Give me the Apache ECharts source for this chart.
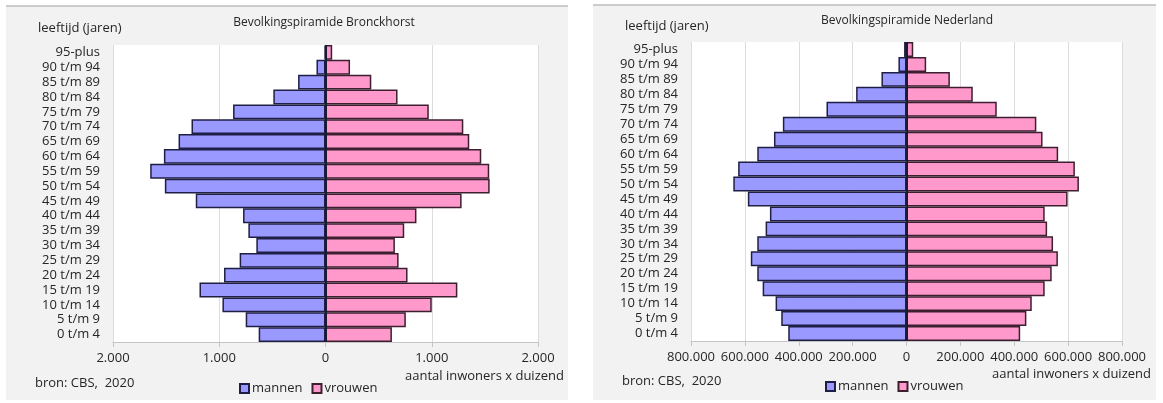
<!DOCTYPE html>
<html>
<head>
<meta charset="utf-8">
<script src="https://cdn.jsdelivr.net/npm/echarts@6/dist/echarts.min.js"></script>
<style>
html,body{margin:0;padding:0;background:#fff;}
#c{width:1163px;height:403px;}
</style>
</head>
<body>
<div id="c"></div>
<script>
// categories, top to bottom
const categories = ['95-plus','90 t/m 94','85 t/m 89','80 t/m 84','75 t/m 79','70 t/m 74','65 t/m 69','60 t/m 64','55 t/m 59','50 t/m 54','45 t/m 49','40 t/m 44','35 t/m 39','30 t/m 34','25 t/m 29','20 t/m 24','15 t/m 19','10 t/m 14','5 t/m 9','0 t/m 4'];

// Bronckhorst
const bronckhorstMannen = [8, 85, 258, 491, 870, 1261, 1383, 1521, 1650, 1512, 1221, 776, 726, 651, 808, 955, 1186, 970, 751, 629];
const bronckhorstVrouwen = [63, 231, 431, 678, 972, 1297, 1353, 1466, 1541, 1545, 1281, 856, 741, 653, 688, 772, 1241, 1000, 756, 625];

// Nederland
const nederlandMannen = [9000, 30000, 93000, 187000, 297000, 459000, 492000, 554000, 625000, 643000, 589000, 507000, 523000, 554000, 578000, 554000, 534000, 486000, 465000, 439000];
const nederlandVrouwen = [25000, 73000, 161000, 246000, 335000, 482000, 505000, 563000, 625000, 640000, 598000, 513000, 522000, 544000, 562000, 539000, 513000, 465000, 445000, 422000];

const ticksBronckhorst = {min: -2000, max: 2000, interval: 1000};
const ticksNederland = {min: -800000, max: 800000, interval: 200000};

const titles = ['Bevolkingspiramide Bronckhorst', 'Bevolkingspiramide Nederland'];

const FONT = '"Open Sans", "Noto Sans", sans-serif';
const TXT = '#262626';
const MEN_FILL = '#9999ff', MEN_BORDER = '#1f1f45';
const WOMEN_FILL = '#ff99cc', WOMEN_BORDER = '#3d1f30';

function fmt(v){
  const a = Math.abs(v);
  return String(a).replace(/\B(?=(\d{3})+(?!\d))/g, '.');
}

const grids = [
  {left: 113, right: 625, top: 45, bottom: 61},
  {left: 691, right: 41, top: 42, bottom: 62}
];

function xAxisFor(i, t){
  return {
    type: 'value', gridIndex: i, min: t.min, max: t.max, interval: t.interval,
    axisLine: {show: true, lineStyle: {color: '#c4c4c4', width: 1}},
    axisTick: {show: true, length: 5, inside: false, lineStyle: {color: '#c4c4c4'}},
    splitLine: {show: true, lineStyle: {color: '#dcdcdc', width: 1}},
    axisLabel: {formatter: fmt, color: TXT, fontSize: 13, fontFamily: FONT, margin: 10, showMinLabel: true, showMaxLabel: true}
  };
}
function yAxisFor(i){
  return {
    type: 'category', gridIndex: i, data: categories, inverse: true,
    axisLine: {show: false, onZero: false},
    axisTick: {show: false},
    splitLine: {show: false},
    axisLabel: {interval: 0, color: TXT, fontSize: 13, fontFamily: FONT, margin: 13}
  };
}
function barSeries(name, i, values, sign, fill, border, withLine){
  const s = {
    name: name, type: 'bar', xAxisIndex: i, yAxisIndex: i, stack: 'p' + i,
    barCategoryGap: '0%',
    data: values.map(v => sign * v),
    itemStyle: {color: fill, borderColor: border, borderWidth: 1.5},
    emphasis: {disabled: true},
    animation: false
  };
  if (withLine) {
    s.markLine = {
      symbol: 'none', silent: true, animation: false,
      label: {show: false},
      lineStyle: {color: '#1a1a33', width: 2, type: 'solid'},
      data: [{xAxis: 0}]
    };
  }
  return s;
}

const chart = echarts.init(document.getElementById('c'), null, {renderer: 'canvas'});
chart.setOption({
  backgroundColor: '#ffffff',
  animation: false,
  textStyle: {fontFamily: FONT},
  title: [
    {text: titles[0], left: 319, top: 12, textAlign: 'center', textStyle: {fontSize: 12, fontWeight: 'normal', color: TXT, fontFamily: FONT}},
    {text: titles[1], left: 902, top: 10, textAlign: 'center', textStyle: {fontSize: 12, fontWeight: 'normal', color: TXT, fontFamily: FONT}}
  ],
  grid: grids.map(g => Object.assign({show: true, backgroundColor: '#ffffff', borderWidth: 0}, g)),
  xAxis: [xAxisFor(0, ticksBronckhorst), xAxisFor(1, ticksNederland)],
  yAxis: [yAxisFor(0), yAxisFor(1)],
  legend: [
    {left: 234, top: 377, itemWidth: 9, itemHeight: 9, itemGap: 9, icon: 'rect', selectedMode: false,
     data: ['mannen', 'vrouwen'], textStyle: {color: TXT, fontSize: 13, fontFamily: FONT, padding: [0,0,0,-2]}},
    {left: 820, top: 375, itemWidth: 9, itemHeight: 9, itemGap: 9, icon: 'rect', selectedMode: false,
     data: ['mannen', 'vrouwen'], textStyle: {color: TXT, fontSize: 13, fontFamily: FONT, padding: [0,0,0,-2]}}
  ],
  graphic: [
    {type: 'rect', z: -10, silent: true, shape: {x: 6, y: 6, width: 562, height: 394}, style: {fill: '#f2f2f2'}},
    {type: 'line', z: -9, silent: true, shape: {x1: 6, y1: 6, x2: 568, y2: 6}, style: {stroke: '#bdbdbd', lineWidth: 1.5}},
    {type: 'rect', z: -10, silent: true, shape: {x: 593, y: 5, width: 563, height: 395}, style: {fill: '#f2f2f2'}},
    {type: 'line', z: -9, silent: true, shape: {x1: 593, y1: 5, x2: 1156, y2: 5}, style: {stroke: '#bdbdbd', lineWidth: 1.5}},
    {type: 'text', left: 38, top: 22, style: {text: 'leeftijd (jaren)', fill: TXT, font: '13px ' + FONT}},
    {type: 'text', left: 625, top: 20, style: {text: 'leeftijd (jaren)', fill: TXT, font: '13px ' + FONT}},
    {type: 'text', left: 35, top: 377, style: {text: 'bron: CBS,  2020', fill: TXT, font: '13px ' + FONT}},
    {type: 'text', left: 622, top: 375, style: {text: 'bron: CBS,  2020', fill: TXT, font: '13px ' + FONT}},
    {type: 'text', left: 405, top: 370, style: {text: 'aantal inwoners x duizend', fill: TXT, font: '13px ' + FONT}},
    {type: 'text', left: 992, top: 368, style: {text: 'aantal inwoners x duizend', fill: TXT, font: '13px ' + FONT}}
  ],
  series: [
    barSeries('mannen', 0, bronckhorstMannen, -1, MEN_FILL, MEN_BORDER, false),
    barSeries('vrouwen', 0, bronckhorstVrouwen, 1, WOMEN_FILL, WOMEN_BORDER, true),
    barSeries('mannen', 1, nederlandMannen, -1, MEN_FILL, MEN_BORDER, false),
    barSeries('vrouwen', 1, nederlandVrouwen, 1, WOMEN_FILL, WOMEN_BORDER, true)
  ]
});
</script>
</body>
</html>
